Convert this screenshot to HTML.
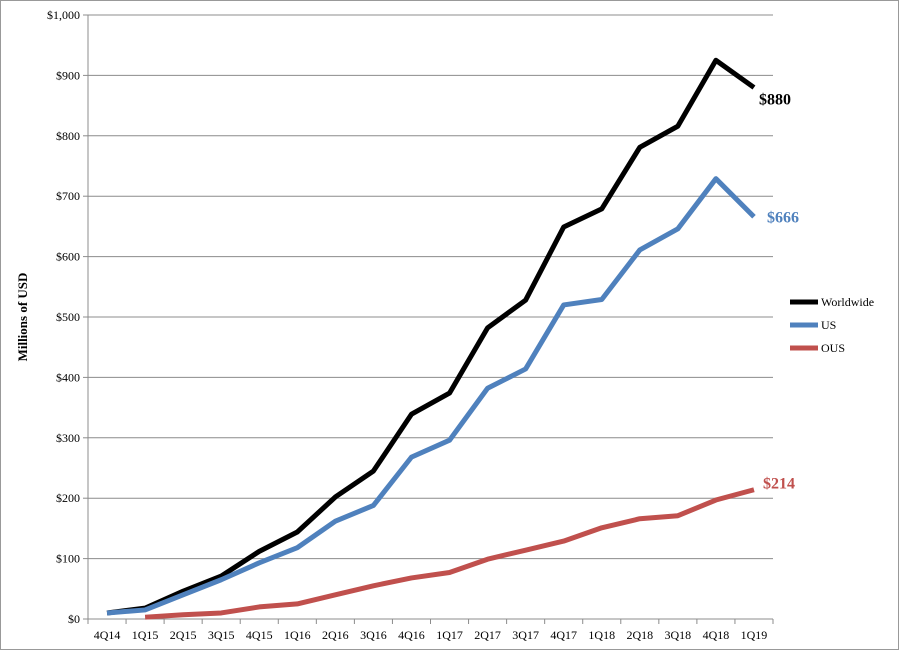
<!DOCTYPE html>
<html><head><meta charset="utf-8"><style>
body{margin:0;background:#fff;}
svg{display:block;font-family:"Liberation Serif",serif;}
</style></head><body>
<svg id="chart" width="899" height="650">
<rect x="0.5" y="0.5" width="898" height="649" fill="#fff" stroke="#999"/>
<g id="grid"></g><g id="axes"></g><g id="series"></g><g id="legend"></g>
<text transform="translate(27,317) rotate(-90)" text-anchor="middle" font-size="13" font-weight="bold">Millions of USD</text>
</svg>
<script>
const categories=["4Q14","1Q15","2Q15","3Q15","4Q15","1Q16","2Q16","3Q16","4Q16","1Q17","2Q17","3Q17","4Q17","1Q18","2Q18","3Q18","4Q18","1Q19"];
const worldwide=[10,18,46,71,112,144,202,245,339,374,482,528,649,679,781,816,925,880];
const us=[10,15,40,65,93,118,162,188,268,296,382,414,520,529,611,646,729,666];
const ous=[null,3,7,10,20,25,40,55,68,77,99,114,129,151,166,171,197,214];
const yTicks=[0,100,200,300,400,500,600,700,800,900,1000];
const yTickLabels=["$0","$100","$200","$300","$400","$500","$600","$700","$800","$900","$1,000"];
const endLabels=["$880","$666","$214"];
const NS="http://www.w3.org/2000/svg";
const L=88,R=773,T=15,B=619;
const step=(R-L)/categories.length;
const x=i=>L+step*(i+0.5);
const y=v=>B-(v/1000)*(B-T);
function mk(tag,attrs,parent){const e=document.createElementNS(NS,tag);for(const k in attrs)e.setAttribute(k,attrs[k]);parent.appendChild(e);return e;}
const grid=document.getElementById('grid'),axes=document.getElementById('axes'),ser=document.getElementById('series'),leg=document.getElementById('legend');
yTicks.forEach((t,i)=>{
 const g=mk('line',{x1:L,x2:R,y1:y(t),y2:y(t),stroke:'#8c8c8c','stroke-width':1},grid);
 
 
 const tk=mk('line',{x1:L-5,x2:L,y1:y(t),y2:y(t),stroke:'#8c8c8c'},axes);
 
 
 const tx=mk('text',{x:L-8,y:y(t)+4,'text-anchor':'end','font-size':12},axes);
 tx.textContent=yTickLabels[i];
 
 
});
const ya=mk('line',{x1:L,x2:L,y1:T,y2:B,stroke:'#8c8c8c'},axes);


for(let i=0;i<=categories.length;i++){
 const tk=mk('line',{x1:L+step*i,x2:L+step*i,y1:B,y2:B+5,stroke:'#8c8c8c'},axes);
 
 
}
categories.forEach((c,i)=>{
 const tx=mk('text',{x:x(i),y:B+20,'text-anchor':'middle','font-size':12},axes);
 tx.textContent=c;
 
 
});
const series=[["Worldwide",worldwide,"#000000"],["US",us,"#4f81bd"],["OUS",ous,"#c0504d"]];
series.forEach((s,si)=>{
 const pts=[];s[1].forEach((v,i)=>{if(v!==null)pts.push(x(i)+','+y(v));});
 const p=mk('polyline',{points:pts.join(' '),fill:'none',stroke:s[2],'stroke-width':5,'stroke-linejoin':'round'},ser);
 
 
 const last=s[1][s[1].length-1];
 const offs=[[5,17],[13,6],[9,-1]][si];
 const t=mk('text',{x:x(s[1].length-1)+offs[0],y:y(last)+offs[1],'font-size':16,'font-weight':'bold',fill:s[2]},ser);
 t.textContent=endLabels[si];
 
 
 const ly=302+si*23;
 const ll=mk('line',{x1:790,x2:818,y1:ly,y2:ly,stroke:s[2],'stroke-width':5},leg);
 
 
 const lt=mk('text',{x:821,y:ly+4,'font-size':12},leg);
 lt.textContent=s[0];
 
 
});
</script>
</body></html>
